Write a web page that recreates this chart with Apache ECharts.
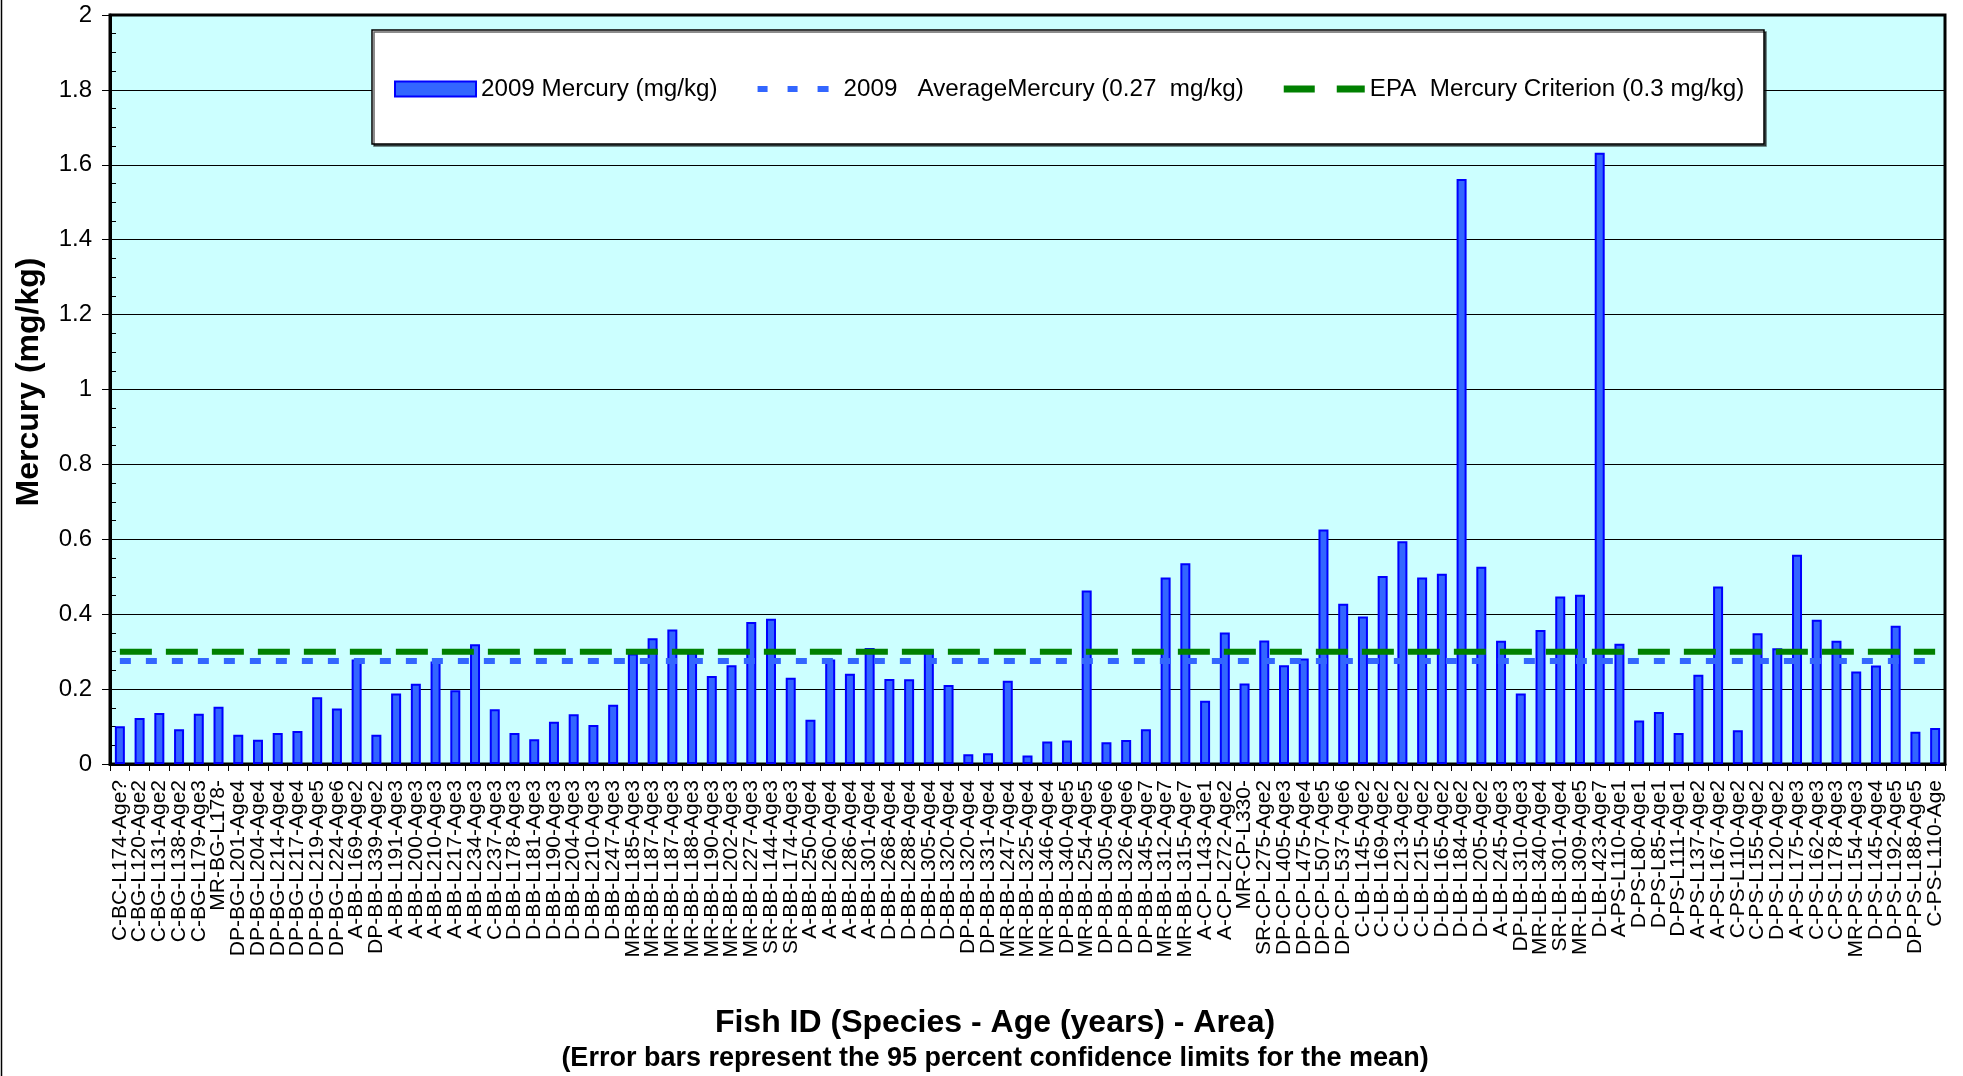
<!DOCTYPE html>
<html>
<head>
<meta charset="utf-8">
<title>2009 Mercury by Fish ID</title>
<script src="https://cdn.jsdelivr.net/npm/echarts@6/dist/echarts.min.js"></script>
<style>
  html, body { margin: 0; padding: 0; background: #ffffff; }
  #main { width: 1963px; height: 1076px; }
</style>
</head>
<body>
<div id="main"></div>
<script>
// fish ids along the x axis (species - length - age)
var fishIds = [
  'C-BC-L174-Age?', 'C-BG-L120-Age2', 'C-BG-L131-Age2', 'C-BG-L138-Age2', 'C-BG-L179-Age3',
  'MR-BG-L178-', 'DP-BG-L201-Age4', 'DP-BG-L204-Age4', 'DP-BG-L214-Age4', 'DP-BG-L217-Age4',
  'DP-BG-L219-Age5', 'DP-BG-L224-Age6', 'A-BB-L169-Age2', 'DP-BB-L339-Age2', 'A-BB-L191-Age3',
  'A-BB-L200-Age3', 'A-BB-L210-Age3', 'A-BB-L217-Age3', 'A-BB-L234-Age3', 'C-BB-L237-Age3',
  'D-BB-L178-Age3', 'D-BB-L181-Age3', 'D-BB-L190-Age3', 'D-BB-L204-Age3', 'D-BB-L210-Age3',
  'D-BB-L247-Age3', 'MR-BB-L185-Age3', 'MR-BB-L187-Age3', 'MR-BB-L187-Age3', 'MR-BB-L188-Age3',
  'MR-BB-L190-Age3', 'MR-BB-L202-Age3', 'MR-BB-L227-Age3', 'SR-BB-L144-Age3', 'SR-BB-L174-Age3',
  'A-BB-L250-Age4', 'A-BB-L260-Age4', 'A-BB-L286-Age4', 'A-BB-L301-Age4', 'D-BB-L268-Age4',
  'D-BB-L288-Age4', 'D-BB-L305-Age4', 'D-BB-L320-Age4', 'DP-BB-L320-Age4', 'DP-BB-L331-Age4',
  'MR-BB-L247-Age4', 'MR-BB-L325-Age4', 'MR-BB-L346-Age4', 'DP-BB-L340-Age5', 'MR-BB-L254-Age5',
  'DP-BB-L305-Age6', 'DP-BB-L326-Age6', 'DP-BB-L345-Age7', 'MR-BB-L312-Age7', 'MR-BB-L315-Age7',
  'A-CP-L143-Age1', 'A-CP-L272-Age2', 'MR-CP-L330-', 'SR-CP-L275-Age2', 'DP-CP-L405-Age3',
  'DP-CP-L475-Age4', 'DP-CP-L507-Age5', 'DP-CP-L537-Age6', 'C-LB-L145-Age2', 'C-LB-L169-Age2',
  'C-LB-L213-Age2', 'C-LB-L215-Age2', 'D-LB-L165-Age2', 'D-LB-L184-Age2', 'D-LB-L205-Age2',
  'A-LB-L245-Age3', 'DP-LB-L310-Age3', 'MR-LB-L340-Age4', 'SR-LB-L301-Age4', 'MR-LB-L309-Age5',
  'D-LB-L423-Age7', 'A-PS-L110-Age1', 'D-PS-L80-Age1', 'D-PS-L85-Age1', 'D-PS-L111-Age1',
  'A-PS-L137-Age2', 'A-PS-L167-Age2', 'C-PS-L110-Age2', 'C-PS-L155-Age2', 'D-PS-L120-Age2',
  'A-PS-L175-Age3', 'C-PS-L162-Age3', 'C-PS-L178-Age3', 'MR-PS-L154-Age3', 'D-PS-L145-Age4',
  'D-PS-L192-Age5', 'DP-PS-L188-Age5', 'C-PS-L110-Age'
];

// 2009 mercury, mg/kg
var mercury = [
  0.101, 0.123, 0.136, 0.093, 0.134, 0.153, 0.078, 0.065, 0.083, 0.088,
  0.178, 0.148, 0.279, 0.078, 0.188, 0.214, 0.274, 0.197, 0.320, 0.146,
  0.083, 0.066, 0.113, 0.133, 0.104, 0.158, 0.295, 0.336, 0.359, 0.298,
  0.235, 0.264, 0.379, 0.388, 0.230, 0.118, 0.279, 0.241, 0.310, 0.227,
  0.226, 0.306, 0.211, 0.026, 0.029, 0.222, 0.023, 0.060, 0.063, 0.463,
  0.058, 0.064, 0.093, 0.498, 0.536, 0.169, 0.351, 0.215, 0.330, 0.264,
  0.282, 0.626, 0.428, 0.394, 0.502, 0.595, 0.498, 0.508, 1.562, 0.527,
  0.329, 0.188, 0.358, 0.447, 0.452, 1.632, 0.321, 0.116, 0.139, 0.083,
  0.238, 0.474, 0.090, 0.349, 0.309, 0.559, 0.385, 0.329, 0.247, 0.263,
  0.369, 0.086, 0.096
];

var averageMercury = 0.275;
var epaCriterion = 0.3;

var seriesNames = [
  '2009 Mercury (mg/kg)',
  '2009   AverageMercury (0.27  mg/kg)',
  'EPA  Mercury Criterion (0.3 mg/kg)'
];

var fontFamily = '"Liberation Sans", Arial, sans-serif';

var chartDom = document.getElementById('main');
var myChart = echarts.init(chartDom);

var option = {
  animation: false,
  backgroundColor: '#ffffff',
  textStyle: { fontFamily: fontFamily },
  grid: {
    left: 110,
    right: 18,
    top: 15,
    bottom: 312,
    show: true,
    backgroundColor: '#CCFFFF',
    borderColor: '#000000',
    borderWidth: 3,
    containLabel: false,
    outerBoundsMode: 'none'
  },
  legend: {
    left: 394,
    top: 77,
    padding: 0,
    itemGap: 40,
    itemWidth: 81,
    itemHeight: 15,
    z: 10,
    textStyle: { fontSize: 24.2, color: '#000000', fontFamily: fontFamily },
    data: [
      {
        name: seriesNames[0],
        icon: 'rect',
        itemStyle: { color: '#3366FF', borderColor: '#0000FF', borderWidth: 2 }
      },
      {
        name: seriesNames[1],
        icon: 'path://M0,0M81,15M0,4.5h10v6h-10zM30,4.5h10v6h-10zM60,4.5h11v6h-11z',
        itemStyle: { color: '#3366FF', borderWidth: 0 }
      },
      {
        name: seriesNames[2],
        icon: 'path://M0,0M81,15M0,4h31v7h-31zM53,4h28v7h-28z',
        itemStyle: { color: '#008000', borderWidth: 0 }
      }
    ]
  },
  xAxis: {
    type: 'category',
    data: fishIds,
    boundaryGap: true,
    axisLine: { lineStyle: { color: '#000000', width: 3 } },
    axisTick: { show: true, interval: 0, length: 7, lineStyle: { color: '#000000', width: 1 } },
    axisLabel: {
      interval: 0,
      rotate: 90,
      margin: 16,
      fontSize: 21,
      color: '#000000',
      fontFamily: fontFamily
    },
    splitLine: { show: false }
  },
  yAxis: {
    type: 'value',
    min: 0,
    max: 2,
    interval: 0.2,
    axisLine: { show: true, lineStyle: { color: '#000000', width: 3 } },
    axisTick: { show: true, length: 8, lineStyle: { color: '#000000', width: 1 } },
    minorTick: { show: true, splitNumber: 4, length: -6, lineStyle: { color: '#000000', width: 1 } },
    axisLabel: { fontSize: 24, color: '#000000', margin: 18, fontFamily: fontFamily },
    splitLine: { show: true, lineStyle: { color: '#000000', width: 1.2 } }
  },
  series: [
    {
      name: seriesNames[0],
      type: 'bar',
      data: mercury,
      barWidth: 10,
      itemStyle: { color: '#3366FF', borderColor: '#0000FF', borderWidth: 2 }
    },
    {
      // flat average line across every fish
      name: seriesNames[1],
      type: 'line',
      data: fishIds.map(function () { return averageMercury; }),
      symbol: 'none',
      color: '#3366FF',
      lineStyle: { color: '#3366FF', width: 6, type: [11, 15] },
      z: 3
    },
    {
      name: seriesNames[2],
      type: 'line',
      data: fishIds.map(function () { return epaCriterion; }),
      symbol: 'none',
      color: '#008000',
      lineStyle: { color: '#008000', width: 6, type: [32, 14] },
      z: 4
    }
  ],
  graphic: [
    {
      // legend frame
      type: 'rect',
      z: 5,
      shape: { x: 372, y: 30, width: 1392, height: 114 },
      style: {
        fill: '#ffffff',
        stroke: '#000000',
        lineWidth: 1.5,
        shadowColor: 'rgba(0,0,0,0.6)',
        shadowOffsetX: 2,
        shadowOffsetY: 2
      }
    },
    {
      // chart frame, left edge
      type: 'line',
      shape: { x1: 1.5, y1: 0, x2: 1.5, y2: 1076 },
      style: { stroke: '#000000', lineWidth: 1.5 }
    },
    {
      type: 'text',
      x: 29,
      y: 382,
      rotation: Math.PI / 2,
      style: {
        text: 'Mercury (mg/kg)',
        font: 'bold 32px ' + fontFamily,
        fill: '#000000',
        align: 'center',
        verticalAlign: 'middle'
      }
    },
    {
      type: 'text',
      x: 995,
      y: 1023,
      style: {
        text: 'Fish ID (Species - Age (years) - Area)',
        font: 'bold 32px ' + fontFamily,
        fill: '#000000',
        align: 'center',
        verticalAlign: 'middle'
      }
    },
    {
      type: 'text',
      x: 995,
      y: 1059,
      style: {
        text: '(Error bars represent the 95 percent confidence limits for the mean)',
        font: 'bold 27px ' + fontFamily,
        fill: '#000000',
        align: 'center',
        verticalAlign: 'middle'
      }
    }
  ]
};

option && myChart.setOption(option);
</script>
</body>
</html>
